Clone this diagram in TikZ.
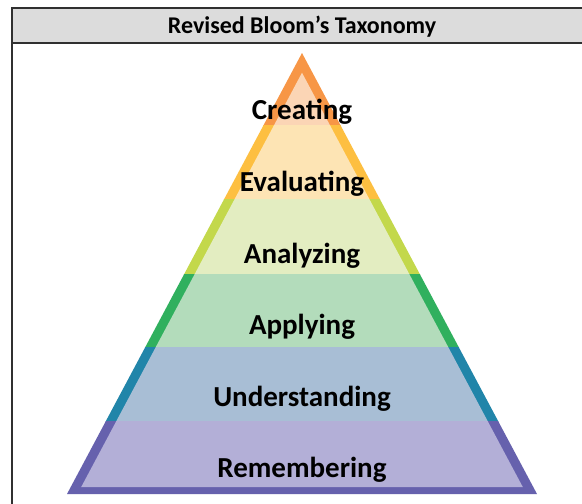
\documentclass[tikz,border=0pt]{standalone}
\usepackage{fontspec}
\setmainfont{Carlito}
\definecolor{crD}{HTML}{F79646}
\definecolor{crL}{HTML}{FBD5B5}
\definecolor{evD}{HTML}{FDBF41}
\definecolor{evL}{HTML}{FDE4B4}
\definecolor{anD}{HTML}{C3D84B}
\definecolor{anL}{HTML}{E3EDC1}
\definecolor{apD}{HTML}{30B05E}
\definecolor{apL}{HTML}{B3DCBB}
\definecolor{unD}{HTML}{2185A9}
\definecolor{unL}{HTML}{A8BED5}
\definecolor{reD}{HTML}{6661AD}
\definecolor{reL}{HTML}{B3AFD7}
\definecolor{hdrFill}{HTML}{DCDCDC}
\definecolor{frameCol}{HTML}{303030}
\begin{document}
\begin{tikzpicture}[x=1pt,y=-1pt,
  lbl/.style={font=\fontsize{29}{34}\selectfont\bfseries, anchor=base, inner sep=0pt},
  ttl/.style={font=\fontsize{24}{28}\selectfont\bfseries, anchor=base, inner sep=0pt},
  frameline/.style={draw=frameCol, line width=1.6pt}]
\useasboundingbox (0,0) rectangle (582,504);
\clip (0,0) rectangle (582,504);
\fill[white] (0,0) rectangle (582,504);
% frame
\fill[hdrFill] (12,8) rectangle (590,43);
\draw[frameline] (590,8) -- (12,8) -- (12,510);
\draw[frameline] (12,43) -- (590,43);
\node[ttl] (title) at (302,33.5) {Revised Bloom’s Taxonomy};
% pyramid bands
\foreach \yt/\yb/\dk/\lt in {53/125.6/crD/crL, 125/199.6/evD/evL, 199/274.6/anD/anL, 274/347.6/apD/apL, 347/421.6/unD/unL, 421/495/reD/reL}{
  \begin{scope}
    \clip (0,\yt) rectangle (582,\yb);
    \fill[\dk] (302,53) -- (67,494) -- (537,494) -- cycle;
    \fill[\lt] (302,72.7) -- (81.2,487) -- (522.8,487) -- cycle;
  \end{scope}
}
\node[lbl] (creating) at (302,119.5) {Creating};
\node[lbl] (evaluating) at (302,191.5) {Evaluating};
\node[lbl] (analyzing) at (302,263.5) {Analyzing};
\node[lbl] (applying) at (302,334.5) {Applying};
\node[lbl] (understanding) at (302,406.5) {Understanding};
\node[lbl] (remembering) at (302,477.5) {Remembering};
\end{tikzpicture}
\end{document}
